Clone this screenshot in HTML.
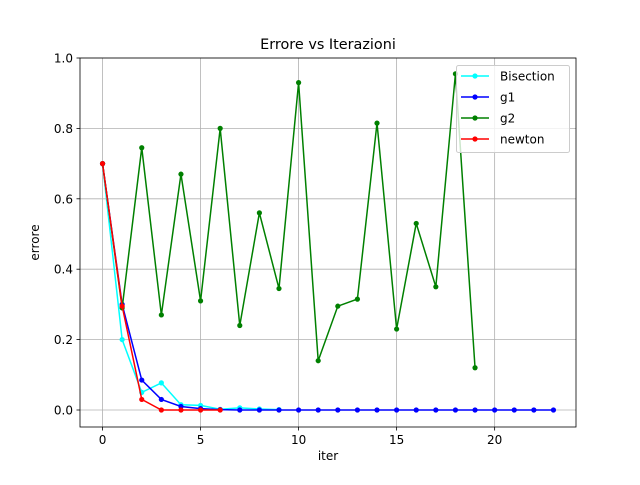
<!DOCTYPE html>
<html><head><meta charset="utf-8"><style>
body{margin:0;background:#fff;font-family:"Liberation Sans","DejaVu Sans",sans-serif}
</style></head><body>
<svg id="c" width="640" height="480" xmlns="http://www.w3.org/2000/svg" font-family="DejaVu Sans, Liberation Sans, sans-serif"></svg>
<script>
const xTicks=[0,5,10,15,20];
const yTicks=[0.0,0.2,0.4,0.6,0.8,1.0];
const bisection=[0.7,0.2,0.05,0.077,0.015,0.013,0.002,0.006,0.003,0.001];
const g1=[0.7,0.3,0.085,0.03,0.01,0.004,0.001,0,0,0,0,0,0,0,0,0,0,0,0,0,0,0,0,0];
const g2=[0.7,0.29,0.745,0.27,0.67,0.31,0.8,0.24,0.56,0.345,0.93,0.14,0.295,0.315,0.815,0.23,0.53,0.35,0.955,0.12];
const newton=[0.7,0.295,0.03,0,0,0,0];
const seriesNames=["Bisection","g1","g2","newton"];
const seriesColors=["#00ffff","#0000ff","#008000","#ff0000"];
const seriesData=[bisection,g1,g2,newton];
const L=80,R=576,T=58,B=427;
const xmin=-1.15,xmax=24.15,ymin=-0.0483,ymax=1.0;
const X=v=>L+(v-xmin)/(xmax-xmin)*(R-L);
const Y=v=>B-(v-ymin)/(ymax-ymin)*(B-T);
const svg=document.getElementById('c');
const NS='http://www.w3.org/2000/svg';
function mk(t,a,p){const e=document.createElementNS(NS,t);for(const k in a)e.setAttribute(k,a[k]);(p||svg).appendChild(e);return e;}
let e;
e=mk('rect',{x:L,y:T,width:R-L,height:B-T,fill:'#fff'});


xTicks.forEach(t=>{
 e=mk('line',{x1:X(t),x2:X(t),y1:T,y2:B,stroke:'#b0b0b0','stroke-width':0.8});
 
 
 mk('line',{x1:X(t),x2:X(t),y1:B,y2:B+3.5,stroke:'#000','stroke-width':0.8});
 e=mk('text',{x:X(t),y:B+17,'text-anchor':'middle','font-size':12});e.textContent=t;
 
 
});
yTicks.forEach(t=>{
 e=mk('line',{x1:L,x2:R,y1:Y(t),y2:Y(t),stroke:'#b0b0b0','stroke-width':0.8});
 
 
 mk('line',{x1:L-3.5,x2:L,y1:Y(t),y2:Y(t),stroke:'#000','stroke-width':0.8});
 e=mk('text',{x:L-7,y:Y(t)+4.5,'text-anchor':'end','font-size':12});e.textContent=t.toFixed(1);
 
 
});
seriesData.forEach((d,i)=>{
 const g=mk('g',{});
 
 
 e=mk('polyline',{points:d.map((v,j)=>X(j)+','+Y(v)).join(' '),fill:'none',stroke:seriesColors[i],'stroke-width':1.5},g);
 
 
 d.forEach((v,j)=>{e=mk('circle',{cx:X(j),cy:Y(v),r:2.6,fill:seriesColors[i]},g);
  
  });
});
e=mk('rect',{x:L,y:T,width:R-L,height:B-T,fill:'none',stroke:'#000','stroke-width':0.8});


e=mk('text',{x:(L+R)/2,y:T-9,'text-anchor':'middle','font-size':14.4});e.textContent='Errore vs Iterazioni';


e=mk('text',{x:(L+R)/2,y:B+33,'text-anchor':'middle','font-size':12});e.textContent='iter';


e=mk('text',{x:0,y:0,'text-anchor':'middle','font-size':12,transform:`translate(39,${(T+B)/2}) rotate(-90)`});e.textContent='errore';


const lg=mk('g',{});


mk('rect',{x:456.5,y:65.5,width:113,height:87,rx:2,fill:'#fff','fill-opacity':0.8,stroke:'#ccc'},lg);
seriesNames.forEach((n,i)=>{
 const y=76+i*21;
 const eg=mk('g',{},lg);
 
 
 mk('line',{x1:461,x2:489,y1:y,y2:y,stroke:seriesColors[i],'stroke-width':1.5},eg);
 mk('circle',{cx:475,cy:y,r:2.6,fill:seriesColors[i]},eg);
 const t=mk('text',{x:500,y:y+4.5,'font-size':12},eg);t.textContent=n;
});
</script>
</body></html>
